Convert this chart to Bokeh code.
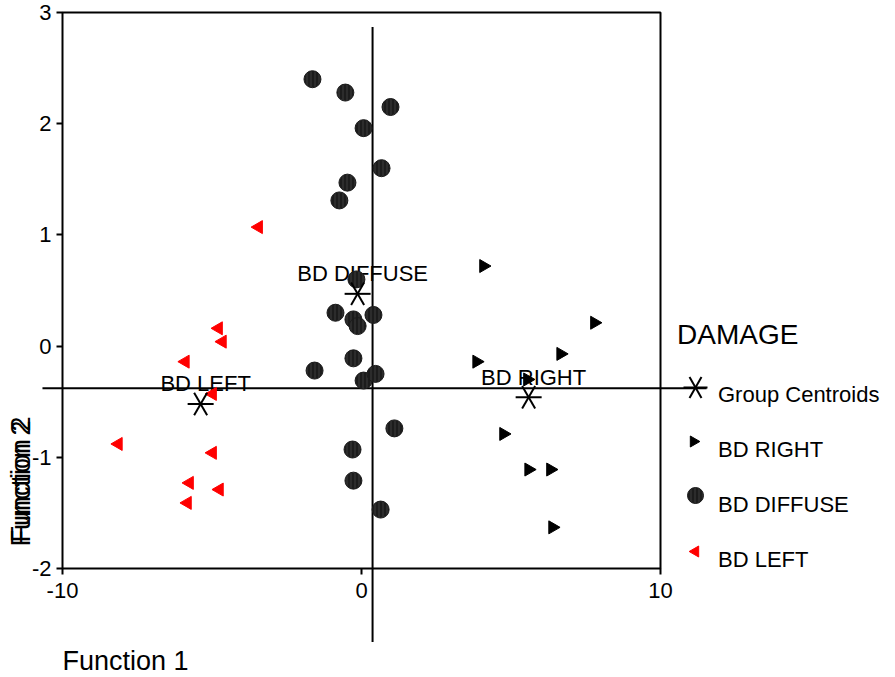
import math
from bokeh.plotting import figure
from bokeh.models import Range1d, FixedTicker, Legend, LegendItem, ColumnDataSource
from bokeh.core.properties import value
from bokeh.embed import file_html
from bokeh.resources import INLINE

# ---------------- data ----------------
right_x = [4.08, 7.79, 6.66, 3.85, 5.55, 4.75, 5.59, 6.32, 6.39]
right_y = [0.72, 0.21, -0.07, -0.14, -0.30, -0.79, -1.11, -1.11, -1.63]

diffuse_x = [-1.64, -0.54, 0.97, 0.07, 0.67, -0.47, -0.74, -0.17, -0.87, -0.27,
             -0.13, 0.40, -0.27, -1.57, 0.07, 0.47, 1.10, -0.30, -0.27, 0.64]
diffuse_y = [2.40, 2.28, 2.15, 1.96, 1.60, 1.47, 1.31, 0.60, 0.30, 0.24,
             0.18, 0.28, -0.11, -0.22, -0.31, -0.25, -0.74, -0.93, -1.21, -1.47]

left_x = [-3.44, -4.78, -4.65, -5.89, -4.98, -8.13, -4.98, -5.75, -4.75, -5.82]
left_y = [1.07, 0.16, 0.04, -0.14, -0.43, -0.88, -0.96, -1.23, -1.29, -1.41]

centroid_names = ["BD RIGHT", "BD DIFFUSE", "BD LEFT"]
centroid_x = [5.59, -0.13, -5.38]
centroid_y = [-0.46, 0.47, -0.52]

legend_labels = ["Group Centroids", "BD RIGHT", "BD DIFFUSE", "BD LEFT"]
legend_title = "DAMAGE"

x_ticks = [-10, 0, 10]
y_ticks = [-2, -1, 0, 1, 2, 3]

# reference lines
vline_x = 0.37
vline_y = [2.87, -2.66]
hline_y = -0.378
hline_x = [-10.67, 11.54]

# ---------------- layout ----------------
W, H = 895, 677
PX_X, PX_Y = 29.9, 111.2       # pixels per data unit
X0_PX, YTOP_PX = 62, 12        # canvas px of x=-10 and of y=3
x_start = x_ticks[0] - X0_PX / PX_X
x_end = x_start + W / PX_X
y_end = y_ticks[-1] + YTOP_PX / PX_Y
y_start = y_end - H / PX_Y


def px_to_x(px):
    return x_start + px / PX_X


def px_to_y(py):
    return y_end - py / PX_Y


FONT = value("Liberation Sans")

p = figure(width=W, height=H, x_range=Range1d(x_start, x_end),
           y_range=Range1d(y_start, y_end), output_backend="svg",
           toolbar_location=None, min_border=0, outline_line_color=None)
p.grid.visible = False

for ax, ticks, loc in ((p.xaxis, x_ticks, y_ticks[0]), (p.yaxis, y_ticks, x_ticks[0])):
    ax.fixed_location = loc
    ax.ticker = FixedTicker(ticks=ticks)
    ax.major_label_overrides = {t: str(t) for t in ticks}
    ax.axis_line_color = None
    ax.major_tick_in = 0
    ax.major_tick_out = 6
    ax.major_tick_line_width = 2
    ax.minor_tick_in = 0
    ax.minor_tick_out = 0
    ax.major_label_text_font = "Liberation Sans"
    ax.major_label_text_font_size = "22px"
    ax.major_label_text_color = "black"
p.xaxis.major_label_standoff = 8
p.yaxis.major_label_standoff = 5

# frame box
p.quad(left=[x_ticks[0]], right=[x_ticks[-1]], bottom=[y_ticks[0]], top=[y_ticks[-1]],
       fill_color=None, line_color="black", line_width=2)

# reference lines
p.segment(x0=[vline_x, hline_x[0]], y0=[vline_y[0], hline_y],
          x1=[vline_x, hline_x[1]], y1=[vline_y[1], hline_y],
          line_color="black", line_width=2)

# centroid labels
csrc = ColumnDataSource(dict(x=centroid_x, y=centroid_y, name=centroid_names))
p.text(x="x", y="y", text="name", source=csrc, x_offset=5, y_offset=-20,
       text_align="center", text_baseline="alphabetic",
       text_font=FONT, text_font_size="22px", text_color="black")

# points
TRI = 13
CIRC = 17
diff_style = dict(fill_color="#1c1c1c", line_color="#1c1c1c",
                  hatch_pattern="vertical_line", hatch_color="#3c3c3c",
                  hatch_scale=4, hatch_weight=1)
r_right = p.scatter(right_x, right_y, marker="triangle", angle=-math.pi / 2, size=TRI,
                    fill_color="black", line_color="black")
r_diff = p.scatter(diffuse_x, diffuse_y, marker="circle", size=CIRC, **diff_style)
r_left = p.scatter(left_x, left_y, marker="triangle", angle=math.pi / 2, size=TRI,
                   fill_color="#ff0000", line_color="#ff0000")
r_cent = None
for ang in (0, math.pi / 3, 2 * math.pi / 3):
    r = p.scatter(x="x", y="y", source=csrc, marker="dash", angle=ang,
                  size=26, line_color="black", line_width=2)
    r_cent = r_cent or r

# axis titles
p.text(x=[x_ticks[0]], y=[px_to_y(660)], text=["Function 1"], text_align="left",
       text_baseline="alphabetic", text_font=FONT, text_font_size="27px",
       text_color="black")
p.text(x=[px_to_x(20)] * 2, y=[px_to_y(481)] * 2, text=["Function 2", "Function 2"],
       angle=math.pi / 2, y_offset=[2, -2], text_align="center", text_baseline="middle",
       text_font=FONT, text_font_size="27px", text_color="black")

# legend: title + labels via Legend, keys drawn as markers (legend ignores marker angle)
legend = Legend(items=[LegendItem(label=lab, renderers=[r])
                       for lab, r in zip(legend_labels, [r_cent, r_right, r_diff, r_left])],
                location=(677, H - 580), title=legend_title,
                title_text_font="Liberation Sans", title_text_font_size="28px",
                title_text_font_style="normal", title_text_color="black",
                title_standoff=24,
                label_text_font="Liberation Sans", label_text_font_size="22px",
                label_text_color="black",
                glyph_width=0, glyph_height=40, label_height=40, spacing=15,
                label_standoff=41, padding=0, margin=0,
                border_line_color=None, background_fill_alpha=0)
p.add_layout(legend)

KEY_X = px_to_x(695)
KEY_Y = [px_to_y(v) for v in (387, 441, 495, 551)]
for ang in (0, math.pi / 3, 2 * math.pi / 3):
    p.scatter([KEY_X], [KEY_Y[0]], marker="dash", angle=ang, size=24,
              line_color="black", line_width=2)
p.scatter([KEY_X - 2 / PX_X], [KEY_Y[1]], marker="triangle", angle=-math.pi / 2, size=11,
          fill_color="black", line_color="black")
p.scatter([KEY_X], [KEY_Y[2]], marker="circle", size=16, **diff_style)
p.scatter([KEY_X], [KEY_Y[3]], marker="triangle", angle=math.pi / 2, size=11,
          fill_color="#ff0000", line_color="#ff0000")

open("out.html", "w").write(file_html(p, INLINE))
